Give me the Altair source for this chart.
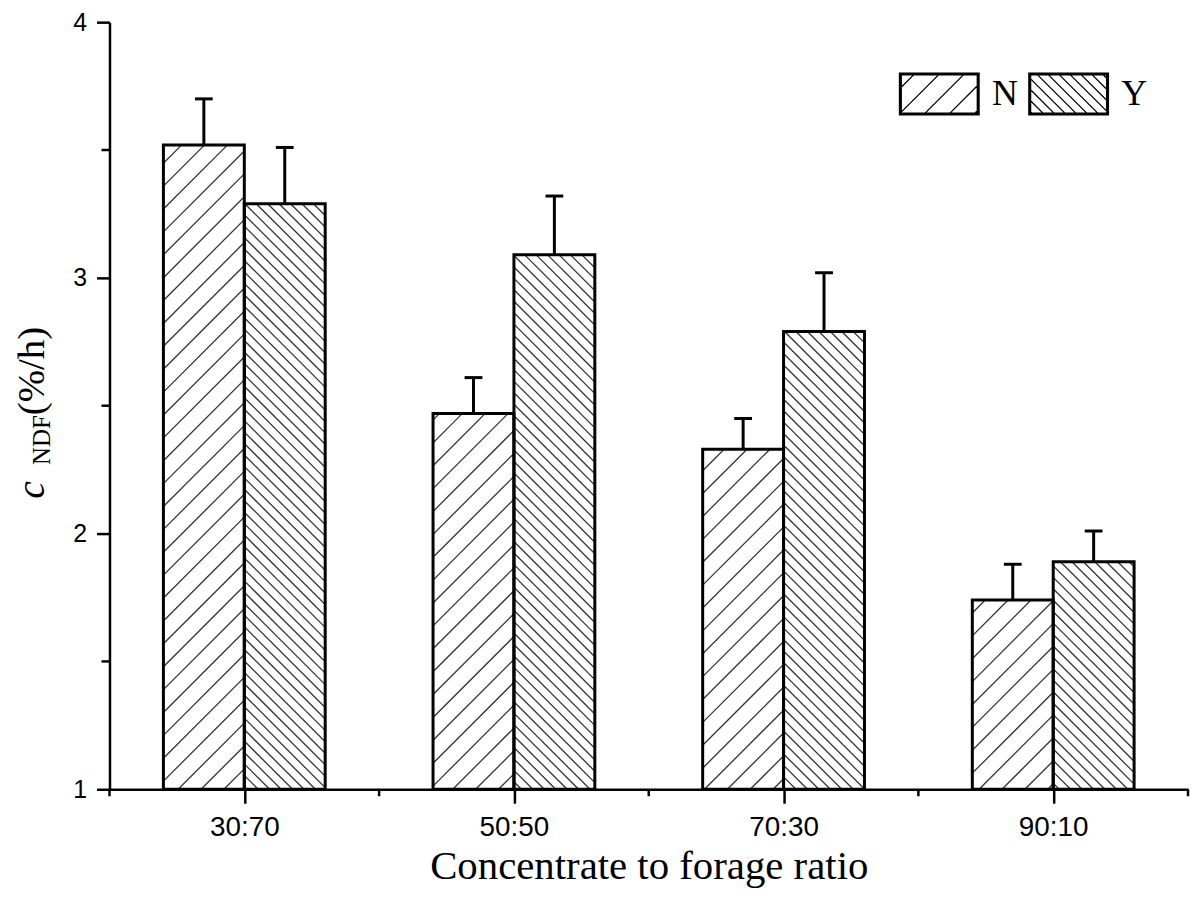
import math
import altair as alt
import pandas as pd

# ---------------- data ----------------
ratios = ["30:70", "50:50", "70:30", "90:10"]
groups = ["N", "Y"]
n_mean = [3.52, 2.47, 2.33, 1.74]
n_err = [0.18, 0.14, 0.12, 0.14]
y_mean = [3.29, 3.09, 2.79, 1.89]
y_err = [0.22, 0.23, 0.23, 0.12]
y_ticks = [1, 2, 3, 4]
y_minor = [1.5, 2.5, 3.5]
x_title = "Concentrate to forage ratio"
y_title_parts = ["c", "NDF", "(%/h)"]

# ---------------- layout / style ----------------
W, H = 1084, 771
X_DOM = [0, len(ratios)]
Y_DOM = [1, 4]
BAR_W = 0.3
CAP = 0.033
HATCH_STEP = {"N": 23.0, "Y": 11.5}
SERIF = "Liberation Serif"
SANS = "Liberation Sans"


def px_u(x):
    return (x - X_DOM[0]) / (X_DOM[1] - X_DOM[0]) * W


def px_w(y):
    return (y - Y_DOM[0]) / (Y_DOM[1] - Y_DOM[0]) * H


def dx(u):
    return X_DOM[0] + u / W * (X_DOM[1] - X_DOM[0])


def dy(w):
    return Y_DOM[0] + w / H * (Y_DOM[1] - Y_DOM[0])


rows = []
for i, r in enumerate(ratios):
    c = i + 0.5
    for g, means, errs, off in (("N", n_mean, n_err, -1), ("Y", y_mean, y_err, 0)):
        x0 = c + off * BAR_W
        xc = x0 + BAR_W / 2
        rows.append(dict(ratio=r, group=g, x0=x0, x1=x0 + BAR_W, xc=xc,
                         cap0=xc - CAP, cap1=xc + CAP,
                         base=Y_DOM[0], mean=means[i], top=means[i] + errs[i]))
bars = pd.DataFrame(rows)

# hatch segments, clipped to each bar, computed in pixel space (45 degrees)
hrows = []
for b in rows:
    u0, u1 = px_u(b["x0"]), px_u(b["x1"])
    wt = px_w(b["mean"])
    s = HATCH_STEP[b["group"]]
    if b["group"] == "N":  # "/" : w - u = k
        k = math.ceil(-u1 / s) * s
        while k < wt - u0:
            ua, ub = max(u0, -k), min(u1, wt - k)
            if ub - ua > 0.8:
                hrows.append(dict(xa=dx(ua), ya=dy(ua + k), xb=dx(ub), yb=dy(ub + k)))
            k += s
    else:  # "\" : w + u = k
        k = math.ceil(u0 / s) * s
        while k < u1 + wt:
            ua, ub = max(u0, k - wt), min(u1, k)
            if ub - ua > 0.8:
                hrows.append(dict(xa=dx(ua), ya=dy(k - ua), xb=dx(ub), yb=dy(k - ub)))
            k += s
hatch = pd.DataFrame(hrows)


# legend symbol paths (unit box, scaled by sqrt(size)/2)
def legend_path(kind, step_px, half_px=40.0, hh=0.525):
    px = 1.0 / half_px
    parts = []
    for ins in (0.0, 0.6, 1.2, 1.8):
        a, bh = 1 - ins * px, hh - ins * px
        parts.append(f"M{-a:.4f},{-bh:.4f}H{a:.4f}V{bh:.4f}H{-a:.4f}Z")
    st = step_px * px
    c = -3.0
    while c < 3.0:
        if kind == "N":  # x + y = c (SVG y down)
            xa, xb = max(-1, c - hh), min(1, c + hh)
            if xb - xa > 0.02:
                parts.append(f"M{xa:.4f},{c - xa:.4f}L{xb:.4f},{c - xb:.4f}")
        else:  # y - x = c
            xa, xb = max(-1, -hh - c), min(1, hh - c)
            if xb - xa > 0.02:
                parts.append(f"M{xa:.4f},{xa + c:.4f}L{xb:.4f},{xb + c:.4f}")
        c += st
    return "".join(parts)


paths = [legend_path("N", 25.0), legend_path("Y", 11.0)]

xs = alt.Scale(domain=X_DOM, nice=False, zero=False)
ys = alt.Scale(domain=Y_DOM, nice=False, zero=False)
label_expr = "[" + ",".join(f"'{r}'" for r in ratios) + "][floor(datum.value)]"

base = alt.Chart(bars)

fill_layer = base.mark_rect(fill="white", stroke=None).encode(
    x=alt.X("x0:Q", scale=xs,
            axis=alt.Axis(values=[i + 0.5 for i in range(len(ratios))], labelExpr=label_expr,
                          title=x_title, titleFont=SERIF, titleFontSize=41, titleFontWeight="normal",
                          titleColor="black", titlePadding=6,
                          labelFont=SANS, labelFontSize=28, labelColor="black", labelPadding=10,
                          tickSize=14, tickWidth=2.5, tickColor="black",
                          domainWidth=2.5, domainColor="black", grid=False)),
    x2="x1:Q",
    y=alt.Y("base:Q", scale=ys,
            axis=alt.Axis(values=y_ticks, format="d", title=None, labelFont=SANS, labelFontSize=25,
                          labelColor="black", labelPadding=10, tickSize=13, tickWidth=2.5,
                          tickColor="black", domainWidth=2.5, domainColor="black", grid=False)),
    y2="mean:Q",
)

hatch_layer = alt.Chart(hatch).mark_rule(color="#333333", strokeWidth=1.3).encode(
    x=alt.X("xa:Q", scale=xs), y=alt.Y("ya:Q", scale=ys), x2="xb:Q", y2="yb:Q"
)

outline_layer = base.mark_rect(fill=None, fillOpacity=0, stroke="black", strokeWidth=3).encode(
    x=alt.X("x0:Q", scale=xs), x2="x1:Q", y=alt.Y("base:Q", scale=ys), y2="mean:Q"
)

err_layer = base.mark_rule(color="black", strokeWidth=3).encode(
    x=alt.X("xc:Q", scale=xs), y=alt.Y("mean:Q", scale=ys), y2="top:Q"
)
cap_layer = base.mark_rule(color="black", strokeWidth=3).encode(
    x=alt.X("cap0:Q", scale=xs), x2="cap1:Q", y=alt.Y("top:Q", scale=ys)
)

xminor = alt.Chart(pd.DataFrame({"b": list(range(len(ratios) + 1))})).mark_rule(
    color="black", strokeWidth=2.5).encode(
    x=alt.X("b:Q", scale=xs), y=alt.value(H), y2=alt.value(H + 7)
)
yminor = alt.Chart(pd.DataFrame({"m": y_minor})).mark_rule(color="black", strokeWidth=2.5).encode(
    y=alt.Y("m:Q", scale=ys), x=alt.value(0), x2=alt.value(-8)
)

legend_layer = base.transform_filter("false").mark_point(
    filled=False, color="black", strokeWidth=1.3, size=6400, opacity=1
).encode(
    shape=alt.Shape("group:N", scale=alt.Scale(domain=groups, range=paths),
                    legend=alt.Legend(title=None, orient="none", legendX=793, legendY=31,
                                      direction="horizontal", columns=2, symbolSize=6400,
                                      symbolStrokeWidth=1.3, symbolStrokeColor="black",
                                      symbolFillColor="white", labelFont=SERIF, labelFontSize=36,
                                      labelColor="black", labelOffset=12, columnPadding=8,
                                      padding=0, symbolOpacity=1))
)

one = pd.DataFrame({"k": [0]})
t_c = alt.Chart(one).mark_text(text=y_title_parts[0], font=SERIF, fontStyle="italic", fontSize=40,
                               angle=270, align="left", baseline="alphabetic", color="black").encode(
    x=alt.value(-66), y=alt.value(479))
t_ndf = alt.Chart(one).mark_text(text=y_title_parts[1], font=SERIF, fontSize=25,
                                 angle=270, align="left", baseline="alphabetic", color="black").encode(
    x=alt.value(-60), y=alt.value(445))
t_unit = alt.Chart(one).mark_text(text=y_title_parts[2], font=SERIF, fontSize=39,
                                  angle=270, align="left", baseline="alphabetic", color="black").encode(
    x=alt.value(-66), y=alt.value(395))

chart = alt.layer(
    fill_layer, hatch_layer, outline_layer, err_layer, cap_layer, xminor, yminor,
    legend_layer, t_c, t_ndf, t_unit
).properties(
    width=W, height=H, autosize=alt.AutoSizeParams(type="none"),
    padding={"left": 102, "top": 12, "right": 4, "bottom": 100},
    background="white"
).configure_view(stroke=None)

chart.save("out.html", embed_options={"renderer": "svg", "actions": False})
